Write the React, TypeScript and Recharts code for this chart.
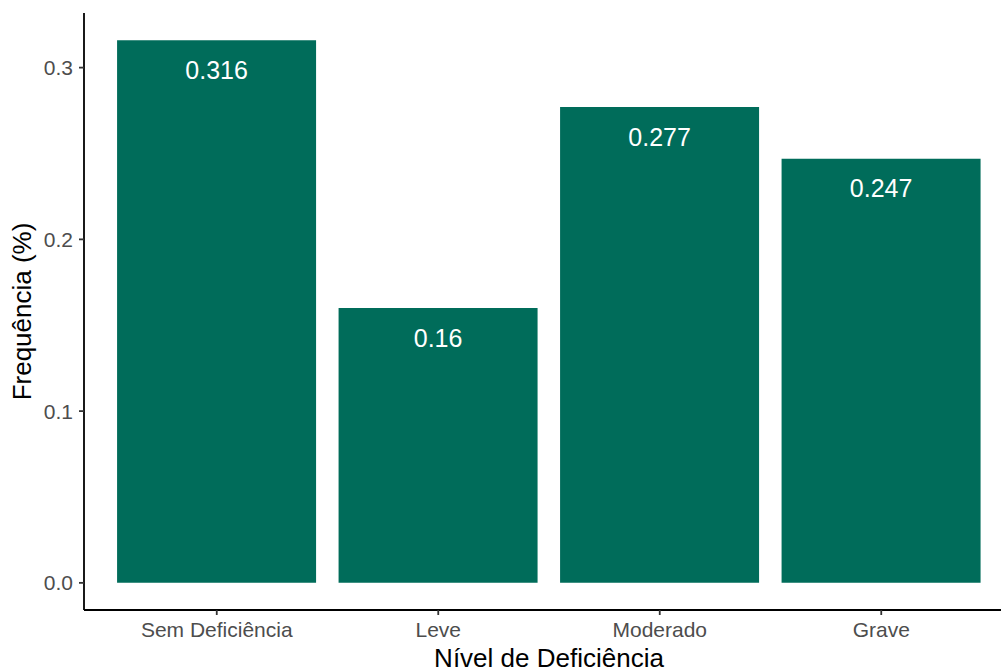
import { BarChart, Bar, XAxis, YAxis, LabelList } from 'recharts'

const categories = ['Sem Deficiência', 'Leve', 'Moderado', 'Grave']
const frequencies = [0.316, 0.16, 0.277, 0.247]
const yTicks = [0, 0.1, 0.2, 0.3]

const xTitle = 'Nível de Deficiência'
const yTitle = 'Frequência (%)'

const barColor = '#006C5A'
const font = '"Liberation Sans", Arial, Helvetica, sans-serif'

const chartData = categories.map((name, i) => ({ name, value: frequencies[i] }))

// ggplot-style expansion: 5% of the data range on both ends
const yMax = Math.max(...frequencies)
const yDomain = [-yMax * 0.05, yMax * 1.05]

function YTitle(props: any) {
  const vb = props.viewBox
  const x = vb.x + 31
  const y = vb.y + vb.height / 2
  return (
    <text
      x={x}
      y={y}
      transform={`rotate(-90, ${x}, ${y})`}
      textAnchor="middle"
      fontSize={26}
      fill="#000"
      fontFamily={font}
    >
      {yTitle}
    </text>
  )
}

export default function App() {
  return (
    <div
      style={{
        position: 'absolute',
        left: 0,
        top: 0,
        width: 1001,
        height: 670,
        overflow: 'hidden',
        background: '#fff',
      }}
    >
      <BarChart
        width={1020}
        height={670}
        data={chartData}
        margin={{ top: 13, right: 6, bottom: 0, left: 0 }}
        barCategoryGap="5%"
        style={{ fontFamily: font }}
      >
        <XAxis
          dataKey="name"
          height={60}
          padding={{ left: 22, right: 22 }}
          axisLine={{ stroke: '#000', strokeWidth: 1.8 }}
          tickLine={{ stroke: '#333', strokeWidth: 1.8 }}
          tickSize={5}
          tickMargin={7}
          tick={{ fill: '#4D4D4D', fontSize: 21, fontFamily: font }}
          label={{ value: xTitle, position: 'insideBottom', offset: 3, fontSize: 26, fill: '#000', fontFamily: font }}
        />
        <YAxis
          type="number"
          width={84}
          domain={yDomain}
          ticks={yTicks}
          allowDataOverflow
          tickFormatter={(v: number) => v.toFixed(1)}
          axisLine={{ stroke: '#000', strokeWidth: 1.8 }}
          tickLine={{ stroke: '#333', strokeWidth: 1.8 }}
          tickSize={5}
          tickMargin={6}
          tick={{ fill: '#4D4D4D', fontSize: 21, fontFamily: font }}
          label={{ content: YTitle }}
        />
        <Bar dataKey="value" fill={barColor} isAnimationActive={false}>
          <LabelList
            dataKey="value"
            position="insideTop"
            offset={21}
            fill="#fff"
            fontSize={25}
            fontFamily={font}
          />
        </Bar>
      </BarChart>
    </div>
  )
}
